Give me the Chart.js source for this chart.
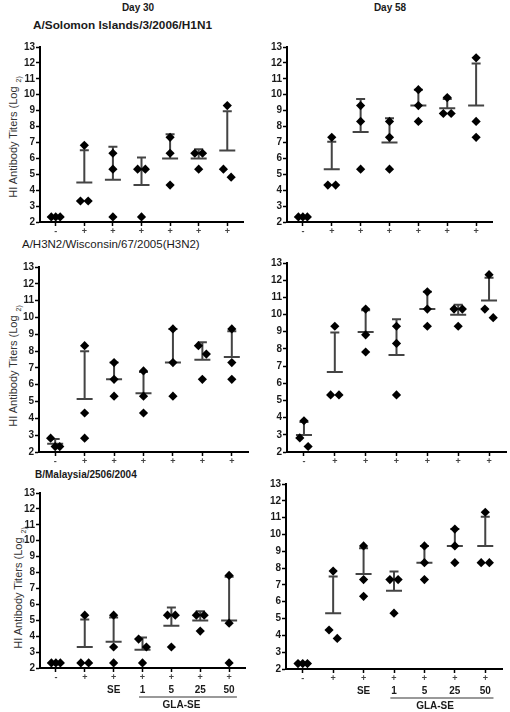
<!DOCTYPE html>
<html>
<head>
<meta charset="utf-8">
<script src="https://cdn.jsdelivr.net/npm/chart.js@4.4.1/dist/chart.umd.min.js"></script>
<style>
  html, body { margin: 0; padding: 0; background: #fff; }
  body { width: 510px; height: 712px; position: relative; overflow: hidden;
         font-family: "Liberation Sans", Arial, sans-serif; }
  canvas { position: absolute; }
  .t { position: absolute; white-space: nowrap; color: #1a1a1a; line-height: 1; }
  .ytitle { position: absolute; white-space: nowrap; color: #333; font-size: 11px; line-height: 1;
            transform: translate(-50%, -50%) rotate(-90deg); }
  .ytitle .s { font-size: 7px; position: relative; top: 4px; margin-left: 4px; }
</style>
</head>
<body>
<script>
// ---------------- DATA ----------------
const categories = ['-', '+', '+', '+', '+', '+', '+'];
const groupLabels = ['', '', 'SE', '1', '5', '25', '50'];
const bracketLabel = 'GLA-SE';
const yTickValues = [2, 3, 4, 5, 6, 7, 8, 9, 10, 11, 12, 13];

// HI titers (log2), three animals per group
const h1n1Day30 = [[2.32, 2.32, 2.32], [6.82, 3.32, 3.32], [6.32, 5.32, 2.32], [5.32, 5.32, 2.32], [7.32, 6.32, 4.32], [6.32, 6.32, 5.32], [9.32, 5.32, 4.82]];
const h1n1Day30Mean = [2.32, 4.49, 4.65, 4.32, 5.99, 5.99, 6.49];
const h1n1Day30Sd = [0, 2.02, 2.08, 1.73, 1.53, 0.58, 2.47];

const h1n1Day58 = [[2.32, 2.32, 2.32], [7.32, 4.32, 4.32], [9.32, 8.32, 5.32], [8.32, 7.32, 5.32], [10.32, 9.32, 8.32], [9.82, 8.82, 8.82], [12.32, 8.32, 7.32]];
const h1n1Day58Mean = [2.32, 5.32, 7.65, 6.99, 9.32, 9.15, 9.32];
const h1n1Day58Sd = [0, 1.73, 2.08, 1.53, 1.0, 0.58, 2.65];

const h3n2Day30 = [[2.82, 2.32, 2.32], [8.32, 4.32, 2.82], [7.32, 6.32, 5.32], [6.82, 5.32, 4.32], [9.32, 7.32, 5.32], [8.32, 7.82, 6.32], [9.32, 7.32, 6.32]];
const h3n2Day30Mean = [2.49, 5.15, 6.32, 5.49, 7.32, 7.49, 7.65];
const h3n2Day30Sd = [0.29, 2.84, 1.0, 1.26, 2.0, 1.04, 1.53];

const h3n2Day58 = [[3.82, 2.82, 2.32], [9.32, 5.32, 5.32], [10.32, 8.82, 7.82], [9.32, 8.32, 5.32], [11.32, 10.32, 9.32], [10.32, 10.32, 9.32], [12.32, 10.32, 9.82]];
const h3n2Day58Mean = [2.99, 6.65, 8.99, 7.65, 10.32, 9.99, 10.82];
const h3n2Day58Sd = [0.76, 2.31, 1.26, 2.08, 1.0, 0.58, 1.32];

const bDay30 = [[2.32, 2.32, 2.32], [5.32, 2.32, 2.32], [5.32, 3.32, 2.32], [3.82, 3.32, 2.32], [5.32, 5.32, 3.32], [5.32, 5.32, 4.32], [7.82, 4.82, 2.32]];
const bDay30Mean = [2.32, 3.32, 3.65, 3.15, 4.65, 4.99, 4.99];
const bDay30Sd = [0, 1.73, 1.53, 0.76, 1.15, 0.58, 2.75];

const bDay58 = [[2.32, 2.32, 2.32], [7.82, 4.32, 3.82], [9.32, 7.32, 6.32], [7.32, 7.32, 5.32], [9.32, 8.32, 7.32], [10.32, 9.32, 8.32], [11.32, 8.32, 8.32]];
const bDay58Mean = [2.32, 5.32, 7.65, 6.65, 8.32, 9.32, 9.32];
const bDay58Sd = [0, 2.18, 1.53, 1.15, 1.0, 1.0, 1.73];

// ---------------- LAYOUT ----------------
const FONT = '"Liberation Sans", Arial, sans-serif';
const panels = [
  { vals: h1n1Day30, mean: h1n1Day30Mean, sd: h1n1Day30Sd, area: [40, 47, 243, 222], groups: false },
  { vals: h1n1Day58, mean: h1n1Day58Mean, sd: h1n1Day58Sd, area: [287, 47, 492, 222], groups: false },
  { vals: h3n2Day30, mean: h3n2Day30Mean, sd: h3n2Day30Sd, area: [39, 267, 248, 452], groups: false },
  { vals: h3n2Day58, mean: h3n2Day58Mean, sd: h3n2Day58Sd, area: [287, 263, 506, 452], groups: false },
  { vals: bDay30, mean: bDay30Mean, sd: bDay30Sd, area: [40, 493, 245, 668], groups: true },
  { vals: bDay58, mean: bDay58Mean, sd: bDay58Sd, area: [286, 484, 502, 669], groups: true }
];

function addText(html, left, cy, css) {
  const d = document.createElement('div');
  d.className = 't';
  d.innerHTML = html;
  d.style.cssText = css + ';left:' + left + 'px;top:' + cy + 'px;transform:translate(' + (css.includes('center') ? '-50%' : '0') + ',-50%)';
  document.body.appendChild(d);
}
function addYTitle(cx, cy) {
  const d = document.createElement('div');
  d.className = 'ytitle';
  d.innerHTML = 'HI Antibody Titers (Log<span class="s">2)</span>';
  d.style.left = cx + 'px';
  d.style.top = cy + 'px';
  document.body.appendChild(d);
}

addText('Day 30', 138, 8, 'font-weight:bold;font-size:10px;text-align:center');
addText('Day 58', 390, 8, 'font-weight:bold;font-size:10px;text-align:center');
addText('A/Solomon Islands/3/2006/H1N1', 33, 26, 'font-weight:bold;font-size:11.8px');
addText('A/H3N2/Wisconsin/67/2005(H3N2)', 22, 245, 'font-size:11.5px');
addText('B/Malaysia/2506/2004', 35, 475, 'font-weight:bold;font-size:10px');
addYTitle(13, 137);
addYTitle(13, 366);
addYTitle(18, 588);

// spread replicate points with (nearly) equal values side by side
function spread(vals) {
  const idx = vals.map((v, i) => i).sort((a, b) => vals[b] - vals[a]);
  const groups = [];
  let cur = [idx[0]];
  for (let k = 1; k < idx.length; k++) {
    if (vals[cur[cur.length - 1]] - vals[idx[k]] < 0.55) cur.push(idx[k]);
    else { groups.push(cur); cur = [idx[k]]; }
  }
  groups.push(cur);
  const off = new Array(vals.length).fill(0);
  groups.forEach(g => {
    const n = g.length;
    g.forEach((i, j) => {
      off[i] = n === 1 ? 0 : (n === 2 ? (j === 0 ? -0.135 : 0.135) : (j - 1) * 0.155);
    });
  });
  return off;
}

const errorBars = {
  id: 'errorBars',
  beforeDatasetsDraw(chart, args, opts) {
    const p = opts.panel;
    const xs = chart.scales.x, ys = chart.scales.y;
    const ctx = chart.ctx;
    ctx.save();
    ctx.strokeStyle = '#444';
    ctx.lineWidth = 2;
    ctx.lineCap = 'butt';
    p.mean.forEach((m, c) => {
      const x = xs.getPixelForValue(c);
      const ym = ys.getPixelForValue(m);
      const yt = ys.getPixelForValue(m + p.sd[c]);
      ctx.beginPath();
      ctx.moveTo(x - 8, ym); ctx.lineTo(x + 8, ym);
      if (p.sd[c] > 0) {
        ctx.moveTo(x, ym); ctx.lineTo(x, yt);
        ctx.moveTo(x - 4.5, yt); ctx.lineTo(x + 4.5, yt);
      }
      ctx.stroke();
    });
    ctx.restore();
  },
  afterDraw(chart, args, opts) {
    const p = opts.panel;
    if (!p.groups) return;
    const xs = chart.scales.x;
    const b = chart.chartArea.bottom;
    const ctx = chart.ctx;
    ctx.save();
    ctx.fillStyle = '#1a1a1a';
    ctx.font = 'bold 10px ' + FONT;
    ctx.textAlign = 'center';
    ctx.textBaseline = 'middle';
    groupLabels.forEach((g, c) => {
      if (g) ctx.fillText(g, xs.getPixelForValue(c), b + 22);
    });
    ctx.strokeStyle = '#777';
    ctx.lineWidth = 1.5;
    ctx.beginPath();
    ctx.moveTo(xs.getPixelForValue(2.88), b + 29);
    ctx.lineTo(xs.getPixelForValue(6.27), b + 29);
    ctx.stroke();
    ctx.fillText(bracketLabel, xs.getPixelForValue(4.35), b + 37);
    ctx.restore();
  }
};

panels.forEach(p => {
  const [L, T, R, B] = p.area;
  const padTop = 12, padRight = 10, yw = 40;
  const xh = p.groups ? 44 : 22;
  const cv = document.createElement('canvas');
  const w = (R - L) + yw + padRight;
  const h = (B - T) + padTop + xh;
  cv.width = w; cv.height = h;
  cv.style.left = (L - yw) + 'px';
  cv.style.top = (T - padTop) + 'px';
  cv.style.width = w + 'px';
  cv.style.height = h + 'px';
  document.body.appendChild(cv);

  const pts = [];
  p.vals.forEach((arr, c) => {
    const off = spread(arr);
    arr.forEach((v, i) => pts.push({ x: c + off[i], y: v }));
  });

  new Chart(cv, {
    type: 'scatter',
    data: {
      datasets: [{
        data: pts,
        pointStyle: 'rectRot',
        pointRadius: 4.6,
        pointHoverRadius: 4.6,
        backgroundColor: '#000',
        borderColor: '#000',
        borderWidth: 0,
        clip: false
      }]
    },
    options: {
      responsive: false,
      animation: false,
      devicePixelRatio: 1,
      layout: { padding: { top: padTop, right: padRight, left: 0, bottom: 0 } },
      plugins: { legend: { display: false }, tooltip: { enabled: false }, errorBars: { panel: p } },
      scales: {
        x: {
          type: 'linear', min: -0.55, max: 6.55,
          afterBuildTicks: s => { s.ticks = categories.map((c, i) => ({ value: i })); },
          afterFit: s => { s.height = xh; },
          border: { color: '#000', width: 2 },
          grid: { drawOnChartArea: false, tickLength: 4, tickColor: '#000', tickWidth: 1.5 },
          ticks: {
            callback: v => categories[Math.round(v)],
            font: { family: FONT, size: 9, weight: 'bold' },
            color: '#444', padding: 0, maxRotation: 0, autoSkip: false
          }
        },
        y: {
          min: 2, max: 13,
          afterBuildTicks: s => { s.ticks = yTickValues.map(v => ({ value: v })); },
          afterFit: s => { s.width = yw; },
          border: { color: '#000', width: 2 },
          grid: { drawOnChartArea: false, tickLength: 4, tickColor: '#000', tickWidth: 1.5 },
          ticks: {
            font: { family: FONT, size: 10, weight: 'bold' },
            color: '#1a1a1a', padding: 1
          }
        }
      }
    },
    plugins: [errorBars]
  });
});
</script>
</body>
</html>
